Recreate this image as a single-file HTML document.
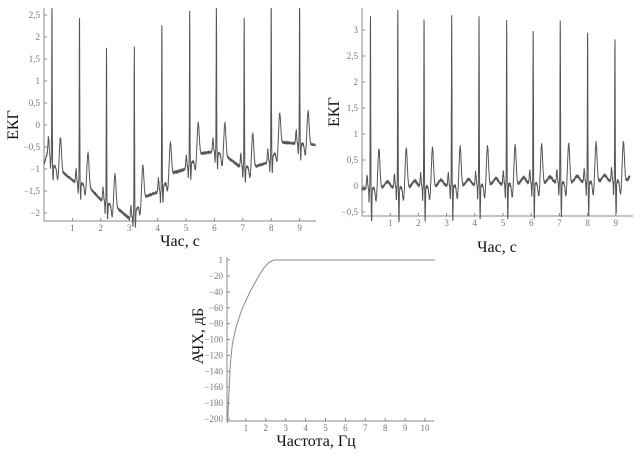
<!DOCTYPE html>
<html><head><meta charset="utf-8"><style>
body{margin:0;background:#fff;}
svg{display:block;}
.t{font-family:"Liberation Serif",serif;font-size:9px;fill:#777;}
.l{font-family:"Liberation Serif","Noto Serif CJK SC",serif;font-size:16px;fill:#111;}
</style></head><body>
<svg id="s" width="642" height="457" viewBox="0 0 642 457" xmlns="http://www.w3.org/2000/svg">
<g stroke="#888" stroke-width="1" fill="none">
<path d="M44,8V221H316"/>
<path d="M362,8V216H633"/>
<path d="M227,257V421H434"/>
</g>
<g id="ticks" stroke="#888" stroke-width="1"></g>
<g id="labels"></g>
<g id="curves" fill="none" stroke="#555" stroke-width="1"></g>
<text class="l" transform="translate(18,125) rotate(-90)" text-anchor="middle">ЕКГ</text>
<text class="l" x="180" y="246" text-anchor="middle">Час, с</text>
<text class="l" transform="translate(339,112) rotate(-90)" text-anchor="middle">ЕКГ</text>
<text class="l" x="497" y="252" text-anchor="middle">Час, с</text>
<text class="l" transform="translate(203,336) rotate(-90)" text-anchor="middle">АЧХ, дБ</text>
<text class="l" x="316" y="446" text-anchor="middle">Частота, Гц</text>
</svg>
<script>
var NS="http://www.w3.org/2000/svg";
function el(p,tag,a,txt){var e=document.createElementNS(NS,tag);for(var k in a)e.setAttribute(k,a[k]);if(txt!==undefined)e.textContent=txt;document.getElementById(p).appendChild(e);return e;}
function axes(x0,y0,yv,yf,xv,xf,lbl){
 yv.forEach(function(v){var y=yf(v);el('ticks','line',{x1:x0,y1:y,x2:x0+3,y2:y});el('labels','text',{x:x0-4,y:y+3,'text-anchor':'end','class':'t'},lbl(v));});
 xv.forEach(function(v){var x=xf(v);el('ticks','line',{x1:x,y1:y0,x2:x,y2:y0-3});el('labels','text',{x:x,y:y0+10,'text-anchor':'middle','class':'t'},String(v));});
}
function fmt(v){return String(v).replace('.',',').replace('-','\u2212');}
var y1=function(v){return 125-44*v},x1=function(t){return 44+28.4*t};
var y2=function(v){return 186-52*v},x2=function(t){return 362+28.2*t};
var x3=function(f){return 226+19.9*f};
var y3=function(v){return v>=0?260:276+(-v-20)*(143/180)};
axes(44,221,[2.5,2,1.5,1,0.5,0,-0.5,-1,-1.5,-2],y1,[1,2,3,4,5,6,7,8,9],x1,fmt);
axes(362,216,[3,2.5,2,1.5,1,0.5,0,-0.5],y2,[1,2,3,4,5,6,7,8,9],x2,fmt);
axes(227,421,[1,-20,-40,-60,-80,-100,-120,-140,-160,-180,-200],function(v){return v==1?260:y3(v)},[1,2,3,4,5,6,7,8,9,10],x3,fmt);
function g(t,c,w,a){return a*Math.exp(-Math.pow((t-c)/w,2));}
function interp(pts,t){for(var i=0;i<pts.length-1;i++){if(t<=pts[i+1][0]){var f=(t-pts[i][0])/(pts[i+1][0]-pts[i][0]);return pts[i][1]+f*(pts[i+1][1]-pts[i][1]);}}return pts[pts.length-1][1];}
function ecg(R,peaks,base,T,S,P,t){
 var v=interp(base,t);
 for(var i=0;i<R.length;i++){var r=R[i],d=t-r;if(d<-0.6||d>0.8)continue;
  v+=g(t,r,0.012,peaks[i]-interp(base,r));
  v+=g(t,r+0.04,0.015,S);v+=g(t,r-0.05,0.012,-0.25);
  v+=g(t,r-0.12,0.025,P);
  v+=g(t,r+0.3,0.05,T);v+=g(t,r+0.2,0.04,-0.25);
 }
 v+=0.02*Math.sin(t*300);
 return v;
}
function draw(fn,xf,yf,t0,t1,clip){var d="";for(var t=t0;t<=t1;t+=0.002){var v=fn(t);var y=Math.max(clip,yf(v));d+=(d?"L":"M")+xf(t).toFixed(1)+","+y.toFixed(1);}el('curves','path',{d:d});}
var R1=[0.28,1.25,2.2,3.18,4.15,5.13,6.07,7.05,8.0,9.0],P1=[2.7,2.45,1.75,1.8,2.25,2.6,2.7,2.45,2.7,2.7];
var B1=[[0,-0.9],[0.15,-0.55],[0.3,-0.9],[0.7,-1.1],[1.1,-1.3],[1.5,-1.35],[2,-1.7],[2.6,-1.9],[3.05,-2.15],[3.5,-1.65],[4.1,-1.5],[4.5,-1.1],[5,-1.0],[5.5,-0.65],[6,-0.6],[6.5,-0.75],[6.9,-0.95],[7.4,-0.95],[7.9,-0.85],[8.4,-0.4],[9.5,-0.45]];
draw(function(t){return ecg(R1,P1,B1,0.75,-0.35,0.3,t)},x1,y1,0,9.55,8);
var R2=[0.3,1.27,2.2,3.18,4.15,5.13,6.07,7.03,8.0,8.97],P2=[3.25,3.4,3.2,3.3,3.25,3.2,3.0,3.2,2.95,2.8];
var B2=[[0,-0.05],[9.5,0.1]];
draw(function(t){var v=ecg(R2,P2,B2,0.75,-0.65,0.25,t);for(var i=0;i<R2.length;i++)v+=g(t,R2[i]+0.6,0.12,0.12);return v},x2,y2,0,9.5,2);
var F=[[0.08,-205],[0.14,-170],[0.22,-130],[0.32,-105],[0.5,-85],[0.8,-62],[1.2,-40],[1.6,-22],[1.9,-10],[2.15,-3],[2.4,0],[10.5,0]];
var d="";for(var f=0.08;f<=10.5;f+=0.02){var v=interp(F,f);d+=(d?"L":"M")+x3(f).toFixed(1)+","+y3(v).toFixed(1);}
el('curves','path',{d:d,stroke:'#888'});
</script>
</body></html>
